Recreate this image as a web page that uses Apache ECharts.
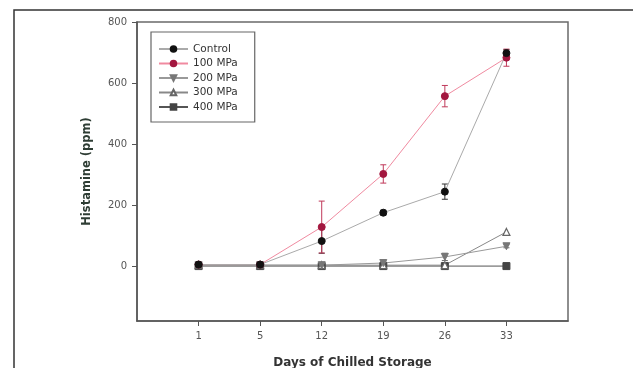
<!DOCTYPE html>
<html>
<head>
<meta charset="utf-8">
<script src="https://cdn.jsdelivr.net/npm/echarts@6/dist/echarts.min.js"></script>
<style>
  html, body { margin: 0; padding: 0; background: #fff; }
  #chart { width: 633px; height: 368px; }
</style>
</head>
<body>
<div id="chart"></div>
<script>
// Storage days (x positions 1..6 on the axis)
const days = [1, 5, 12, 19, 26, 33];
const yTicks = [0, 200, 400, 600, 800];

// Histamine (ppm) per treatment
const control = [5, 5, 82, 175, 244, 698];
const mpa100 = [5, 5, 128, 302, 557, 683];
const mpa200 = [3, 3, 3, 10, 30, 65];
const mpa300 = [3, 3, 3, 3, 3, 112];
const mpa400 = [0, 0, 0, 0, 0, 0];

// Standard deviation per point
const controlErr = [0, 0, 40, 8, 25, 12];
const mpa100Err = [0, 0, 85, 30, 35, 28];
const mpa200Err = [0, 0, 0, 4, 12, 5];
const mpa300Err = [0, 0, 0, 0, 0, 0];
const mpa400Err = [0, 0, 0, 0, 0, 0];

const pairs = vals => vals.map((v, i) => [i + 1, v]);
const errPairs = (vals, errs) => vals.map((v, i) => [i + 1, v - errs[i], v + errs[i]]);

function errorSeries(vals, errs, color) {
  return {
    type: 'custom',
    silent: true,
    z: 3,
    data: errPairs(vals, errs).filter(d => d[2] - d[1] > 0),
    renderItem: function (params, api) {
      const lo = api.coord([api.value(0), api.value(1)]);
      const hi = api.coord([api.value(0), api.value(2)]);
      const w = 3;
      const style = { stroke: color, lineWidth: 1 };
      return {
        type: 'group',
        children: [
          { type: 'line', shape: { x1: lo[0], y1: lo[1], x2: hi[0], y2: hi[1] }, style },
          { type: 'line', shape: { x1: lo[0] - w, y1: lo[1], x2: lo[0] + w, y2: lo[1] }, style },
          { type: 'line', shape: { x1: hi[0] - w, y1: hi[1], x2: hi[0] + w, y2: hi[1] }, style }
        ]
      };
    }
  };
}

function lineSeries(name, vals, lineColor, symbol, markerColor, size, hollow) {
  return {
    name: name,
    type: 'line',
    data: pairs(vals),
    symbol: symbol,
    symbolSize: size,
    z: 4,
    lineStyle: { color: lineColor, width: 1 },
    itemStyle: hollow
      ? { color: '#fff', borderColor: markerColor, borderWidth: 1.2 }
      : { color: markerColor, borderColor: markerColor, borderWidth: 1 },
    emphasis: { disabled: true }
  };
}

const chart = echarts.init(document.getElementById('chart'));
chart.setOption({
  animation: false,
  backgroundColor: '#fff',
  textStyle: { fontFamily: 'DejaVu Sans, sans-serif' },
  grid: {
    left: 137, right: 65, top: 22, bottom: 47,
    outerBoundsMode: 'none',
    containLabel: false,
    show: true, borderColor: '#6a6a6a', borderWidth: 1.5, backgroundColor: 'transparent'
  },
  graphic: [
    {
      type: 'rect',
      shape: { x: 14, y: 10, width: 640, height: 400 },
      style: { fill: 'none', stroke: '#333', lineWidth: 1.5 },
      silent: true,
      z: -1
    }
  ],
  legend: {
    orient: 'vertical',
    left: 151,
    top: 32,
    padding: [11, 17, 9, 7],
    itemWidth: 29,
    itemHeight: 7,
    itemGap: 2.5,
    borderColor: '#666',
    borderWidth: 1.2,
    backgroundColor: '#fff',
    textStyle: { fontSize: 10.5, lineHeight: 12, color: '#333', padding: [0, 0, 0, 0] },
    data: ['Control', '100 MPa', '200 MPa', '300 MPa', '400 MPa']
  },
  xAxis: {
    type: 'value',
    min: 0,
    max: 7,
    name: 'Days of Chilled Storage',
    nameLocation: 'middle',
    nameGap: 36,
    nameTextStyle: { fontSize: 12, fontWeight: 'bold', color: '#333' },
    axisLine: { onZero: false, lineStyle: { color: '#555', width: 1.5 } },
    axisTick: { show: true, length: 5, inside: false, customValues: [1, 2, 3, 4, 5, 6], lineStyle: { color: '#555' } },
    axisLabel: {
      customValues: [1, 2, 3, 4, 5, 6],
      formatter: v => String(days[v - 1]),
      fontSize: 10,
      color: '#555',
      margin: 10
    },
    splitLine: { show: false }
  },
  yAxis: {
    type: 'value',
    min: -180,
    max: 800,
    name: 'Histamine (ppm)',
    nameLocation: 'middle',
    nameGap: 44,
    nameTextStyle: { fontSize: 11.5, fontWeight: 'bold', color: '#2e3d34' },
    axisLine: { show: true, onZero: false, lineStyle: { color: '#555', width: 1.5 } },
    axisTick: { show: true, length: 5, customValues: yTicks, lineStyle: { color: '#555' } },
    axisLabel: { customValues: yTicks, fontSize: 10, color: '#555', margin: 10 },
    splitLine: { show: false }
  },
  series: [
    errorSeries(control, controlErr, '#333'),
    errorSeries(mpa100, mpa100Err, '#c0395a'),
    errorSeries(mpa200, mpa200Err, '#666'),
    errorSeries(mpa300, mpa300Err, '#666'),
    errorSeries(mpa400, mpa400Err, '#444'),
    lineSeries('400 MPa', mpa400, '#555', 'rect', '#444', 7, false),
    lineSeries('300 MPa', mpa300, '#888', 'triangle', '#666', 7, true),
    lineSeries('200 MPa', mpa200, '#999', 'path://M0,0 L10,0 L5,9 Z', '#777', 7, false),
    lineSeries('100 MPa', mpa100, '#f08aa0', 'circle', '#a3173f', 7, false),
    lineSeries('Control', control, '#aaa', 'circle', '#111', 7, false)
  ]
});
</script>
</body>
</html>
